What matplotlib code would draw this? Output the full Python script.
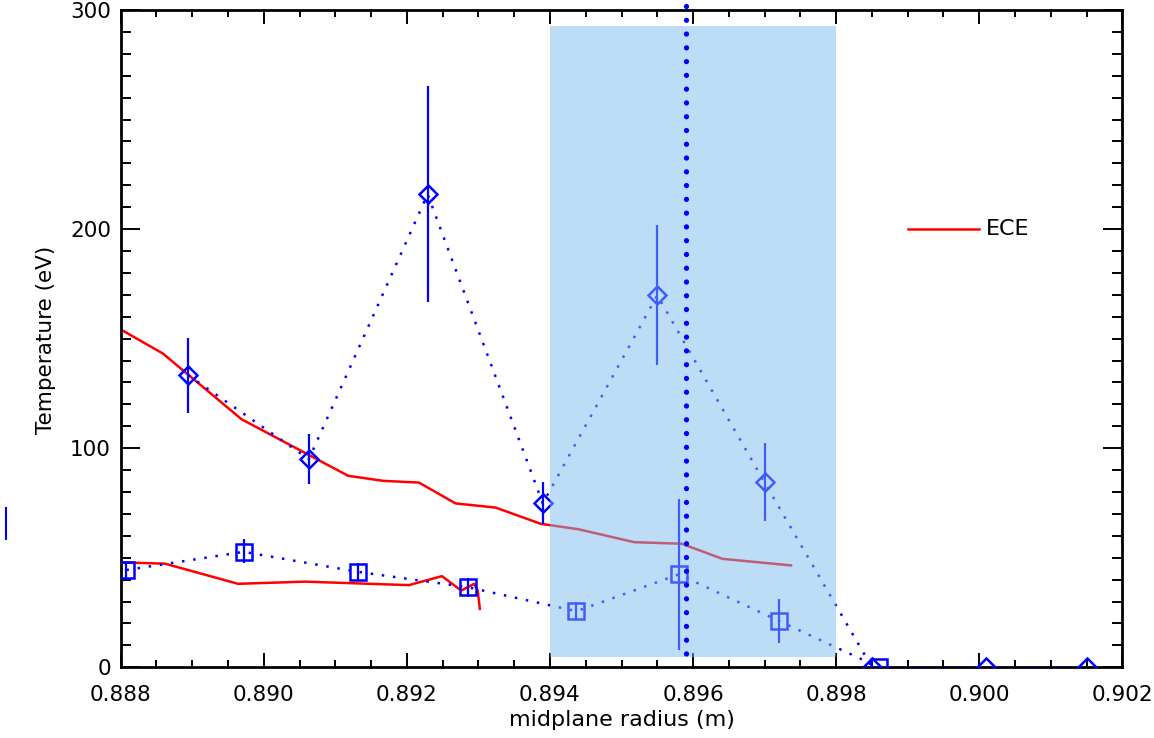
import matplotlib
matplotlib.use('Agg')
import matplotlib.pyplot as plt
from matplotlib.lines import Line2D
from matplotlib.patches import Rectangle
from matplotlib.ticker import MultipleLocator

# ECE profiles (red)
ece1_r = [0.8880, 0.88859, 0.88969, 0.89118, 0.89167, 0.89217, 0.89268, 0.89324,
          0.89387, 0.89440, 0.89518, 0.89584, 0.89641, 0.89737]
ece1_t = [154.2, 143.2, 113.2, 87.4, 85.1, 84.3, 74.8, 72.9,
          65.5, 63.0, 57.1, 56.4, 49.5, 46.5]
ece2_r = [0.8880, 0.88862, 0.88964, 0.89058, 0.89203, 0.89249, 0.89276, 0.89294,
          0.89299, 0.89302]
ece2_t = [47.9, 47.3, 38.1, 39.1, 37.5, 41.6, 35.0, 38.1, 35.0, 26.7]

# diamond series
dia_r = [0.88894, 0.89063, 0.89229, 0.8939, 0.8955, 0.8970, 0.8985, 0.9001, 0.9015]
dia_t = [133.4, 95.0, 215.9, 74.8, 169.8, 84.4, 0, 0, 0]
dia_lo = [115.9, 83.6, 166.7, 65.5, 138.0, 67.0, 0, 0, 0]
dia_hi = [150.3, 106.7, 265.2, 84.4, 202.0, 102.6, 0, 0, 0]

# square series
sq_r = [0.88808, 0.88972, 0.89131, 0.89286, 0.89437, 0.8958, 0.8972, 0.8986]
sq_t = [44.4, 52.7, 43.6, 36.5, 25.6, 42.4, 21.2, 0]
sq_lo = [40.6, 47.4, 39.4, 31.9, 21.4, 8.0, 10.9, 0]
sq_hi = [48.2, 58.4, 47.4, 40.9, 29.7, 77.0, 31.4, 0]

band_r = [0.8940, 0.8980]
band_t = [4.5, 292.7]
sep_r = 0.8959

W, H = 1154, 738
fig = plt.figure(figsize=(W / 100, H / 100), dpi=100)
L, R, T, B = 120.7, 1122.3, 10, 667.3
ax = fig.add_axes([L / W, 1 - B / H, (R - L) / W, (B - T) / H])

blue = '#0000ff'
red = '#ff0000'
ax.plot(ece1_r, ece1_t, color=red, lw=1.8, zorder=2)
ax.plot(ece2_r, ece2_t, color=red, lw=1.8, zorder=2)

dots = (0, (1, 3.5))
ax.plot(dia_r, dia_t, color=blue, lw=1.8, ls=dots, zorder=3)
ax.vlines(dia_r, dia_lo, dia_hi, color=blue, lw=1.6, zorder=3)
ax.plot(dia_r, dia_t, ls='none', marker='D', ms=9, mfc='none', mec=blue, mew=1.8, zorder=4)

ax.plot(sq_r, sq_t, color=blue, lw=1.8, ls=dots, zorder=3)
ax.vlines(sq_r, sq_lo, sq_hi, color=blue, lw=1.6, zorder=3)
ax.plot(sq_r, sq_t, ls='none', marker='s', ms=11, mfc='none', mec=blue, mew=1.8, zorder=4)

ax.add_patch(Rectangle((band_r[0], band_t[0]), band_r[1] - band_r[0], band_t[1] - band_t[0],
                       facecolor='#7dbcf0', edgecolor='none', alpha=0.5, zorder=5))

# separatrix marker, drawn top-down so a dot sits just above the frame
ax.plot([sep_r, sep_r], [302, 0], color=blue, lw=3.8, ls=(0, (0.01, 2.6)),
        dash_capstyle='round', clip_on=False, zorder=6)

# legend
ax.plot([0.8990, 0.9000], [200, 200], color=red, lw=1.8, zorder=6)
ax.text(0.9001, 200, 'ECE', fontsize=16, va='center', ha='left', zorder=6)

ax.set_xlim(0.888, 0.902)
ax.set_ylim(0, 300)
ax.xaxis.set_major_locator(MultipleLocator(0.002))
ax.xaxis.set_minor_locator(MultipleLocator(0.0005))
ax.yaxis.set_major_locator(MultipleLocator(100))
ax.yaxis.set_minor_locator(MultipleLocator(10))
ax.xaxis.set_major_formatter(plt.FuncFormatter(lambda v, p: '%.3f' % v))
ax.yaxis.set_major_formatter(plt.FuncFormatter(lambda v, p: '%d' % round(v)))

ax.tick_params(axis='both', which='both', direction='in', top=True, right=True,
               width=1.4, labelsize=15.5)
ax.tick_params(axis='x', which='major', length=10, pad=13)
ax.tick_params(axis='x', which='minor', length=5)
ax.tick_params(axis='y', which='major', length=14, pad=7)
ax.tick_params(axis='y', which='minor', length=7)
for s in ax.spines.values():
    s.set_linewidth(2)

fig.canvas.draw()
ylabs = ax.get_yticklabels()
ylabs[0].set_va('bottom')
ylabs[-1].set_va('top')

fig.text((L + R) / 2 / W, 1 - 720 / H, 'midplane radius (m)', fontsize=16,
         ha='center', va='center')
fig.text(46 / W, 1 - 340 / H, 'Temperature (eV)', fontsize=15.5, rotation=90,
         ha='center', va='center')

fig.add_artist(Line2D([5.5 / W, 5.5 / W], [1 - 508 / H, 1 - 539 / H], color=blue, lw=1.5))

fig.savefig('out.png', dpi=100)
